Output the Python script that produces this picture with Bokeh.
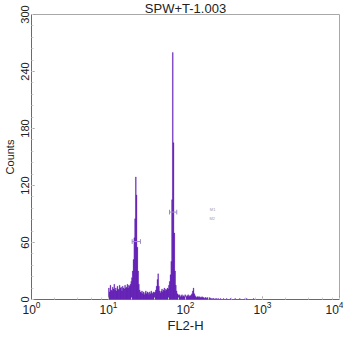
import numpy as np
from bokeh.plotting import figure
from bokeh.models import Range1d, FixedTicker, LogTicker, Title
from bokeh.embed import file_html
from bokeh.resources import INLINE
from bokeh.core.properties import value

title_text = "SPW+T-1.003"
x_label = "FL2-H"
y_label = "Counts"

y_ticks = [0, 60, 120, 180, 240, 300]
x_ticks = [1, 10, 100, 1000, 10000]

# histogram channels: log10 left edge = log_start + i * log_step
log_start = 1.00
log_step = 0.01
counts = [
    # 1.00 - 1.27
    12, 8, 15, 10, 9, 13, 11, 16, 10, 12,
    9, 14, 11, 10, 15, 12, 13, 9, 14, 12,
    11, 15, 12, 13, 16, 12, 15, 14,
    # 1.28 - 1.41 (first peak)
    16, 19, 23, 30, 42, 65, 85, 129, 110, 55, 30, 16, 10, 8,
    # 1.42 - 1.59
    7, 9, 6, 8, 5, 7, 9, 6, 8, 7, 5, 8, 6, 9, 7, 6, 8, 7,
    # 1.60 - 1.67 (small peak)
    8, 10, 14, 21, 27, 14, 9, 7,
    # 1.68 - 1.77
    9, 11, 8, 10, 12, 9, 11, 10, 12, 11,
    # 1.78 - 1.90 (main peak)
    15, 19, 26, 40, 105, 260, 165, 70, 30, 15, 9, 6, 5,
    # 1.91 - 2.05
    4, 5, 3, 4, 5, 3, 4, 3, 5, 4, 3, 4, 5, 3, 4,
    # 2.06 - 2.12 (bump)
    4, 5, 6, 9, 12, 6, 4,
    # 2.13 - 2.40
    3, 2, 3, 3, 2, 3, 2, 2, 3, 2, 2, 1, 2, 2, 1, 2, 1, 1, 2, 1, 1, 0, 1, 1, 0, 1, 0, 1,
    # 2.41 - 2.89
    0, 1, 0, 0, 1, 0, 0, 0, 1, 0,
    0, 0, 1, 0, 0, 0, 0, 1, 0, 0,
    0, 0, 0, 1, 0, 0, 0, 0, 0, 1,
    0, 0, 0, 0, 0, 0, 1, 0, 1, 0,
    0, 0, 0, 0, 0, 0, 0, 1, 0,
]

# gate markers
gate_left = [20.3, 62.0]
gate_right = [26.0, 77.0]
gate_y = [61, 92]
gate_names = ["M1", "M2"]
gate_label_x = [225, 222]
gate_label_y = [95, 85]

idx = np.arange(len(counts))
left = 10 ** (log_start + log_step * idx)
right = 10 ** (log_start + log_step * (idx + 1))

FONT = "Liberation Sans"

p = figure(width=343, height=331, x_axis_type="log",
           x_range=Range1d(1, 10000), y_range=Range1d(0, 300),
           output_backend="svg", toolbar_location=None,
           min_border_left=25, min_border_right=4, min_border_top=0,
           min_border_bottom=0)

p.title.text = title_text
p.title.align = "center"
p.title.text_font = FONT
p.title.text_font_size = "13px"
p.title.text_font_style = "normal"
p.title.text_color = "#222222"
p.title.standoff = -3

# x-axis label as a title placed below the axis
p.add_layout(Title(text=x_label, align="center", text_font=FONT,
                   text_font_size="13px", text_font_style="normal",
                   text_color="#222222", standoff=-2), "below")

p.quad(left=left, right=right, bottom=0, top=counts,
       fill_color="#5a12b0", line_color="#5a12b0", line_width=0.3)

# gate markers
p.segment(x0=gate_left, y0=gate_y, x1=gate_right, y1=gate_y,
          line_color="#9c8cc4", line_width=1)
p.segment(x0=gate_left, y0=[g - 2.5 for g in gate_y], x1=gate_left,
          y1=[g + 2.5 for g in gate_y], line_color="#9c8cc4", line_width=1)
p.segment(x0=gate_right, y0=[g - 2.5 for g in gate_y], x1=gate_right,
          y1=[g + 2.5 for g in gate_y], line_color="#9c8cc4", line_width=1)
p.text(x=gate_label_x, y=gate_label_y, text=gate_names,
       text_font=value(FONT), text_font_size="4px", text_color="#a0a0a0",
       text_align="center", text_baseline="middle")

p.xgrid.visible = False
p.ygrid.visible = False
p.outline_line_color = "#a8a8a8"
p.outline_line_width = 1

p.yaxis.ticker = FixedTicker(ticks=y_ticks, minor_ticks=list(range(0, 301, 12)))
p.xaxis.ticker = LogTicker(desired_num_ticks=5)

for ax in (p.xaxis[0], p.yaxis[0]):
    ax.axis_line_color = "#6a6a6a"
    ax.major_tick_line_color = "#8a8a8a"
    ax.minor_tick_line_color = "#d0d0d0"
    ax.major_tick_in = 3
    ax.major_tick_out = 0
    ax.minor_tick_in = 2
    ax.minor_tick_out = 0
    ax.major_label_text_font = FONT
    ax.axis_label_text_font = FONT
    ax.axis_label_text_font_style = "normal"
    ax.major_label_text_color = "#222222"
    ax.axis_label_text_color = "#222222"

p.xaxis.major_label_text_font_size = "12px"
p.xaxis.major_label_standoff = 1

p.yaxis.axis_label = y_label
p.yaxis.major_label_orientation = "vertical"
p.yaxis.major_label_text_font_size = "11px"
p.yaxis.axis_label_text_font_size = "11px"
p.yaxis.major_label_standoff = 3
p.yaxis.axis_label_standoff = 2

open("out.html", "w").write(file_html(p, INLINE))
